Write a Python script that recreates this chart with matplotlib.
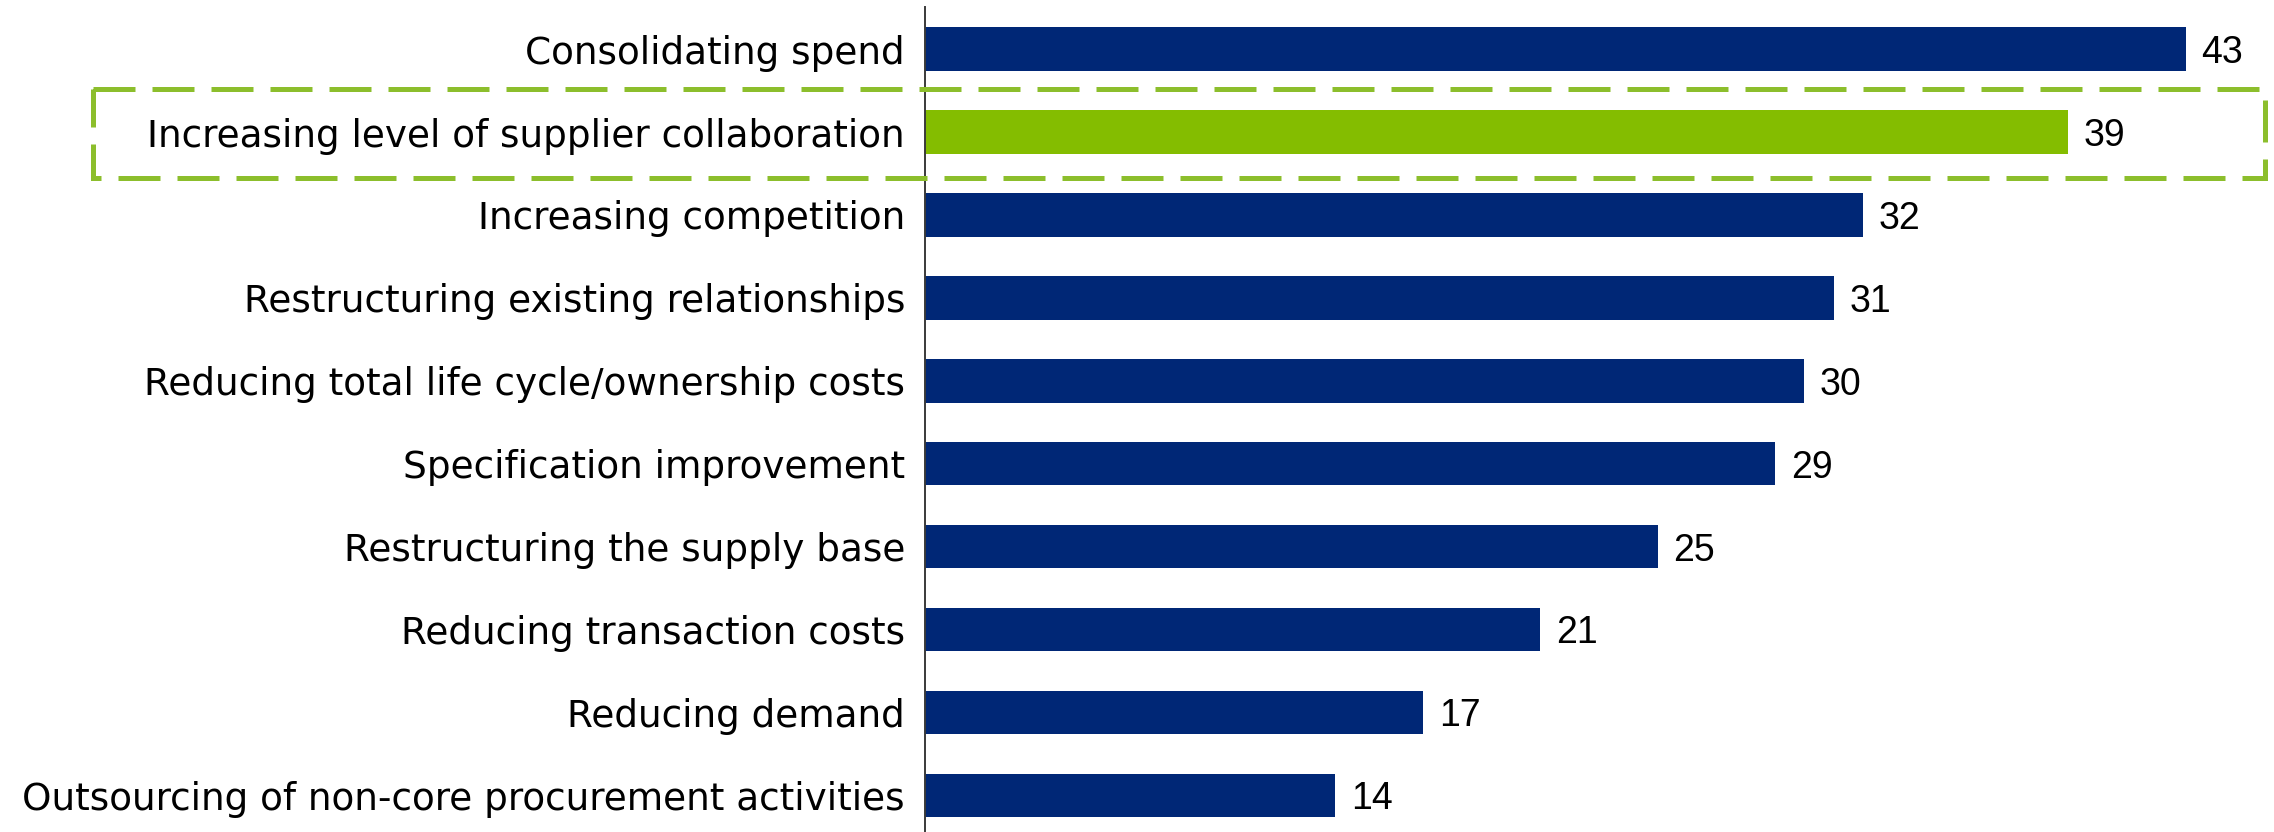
import matplotlib
matplotlib.use("Agg")
import matplotlib.pyplot as plt
from matplotlib.patches import Rectangle

# Levers used to reduce procurement costs (% of respondents)
categories = [
    "Consolidating spend",
    "Increasing level of supplier collaboration",
    "Increasing competition",
    "Restructuring existing relationships",
    "Reducing total life cycle/ownership costs",
    "Specification improvement",
    "Restructuring the supply base",
    "Reducing transaction costs",
    "Reducing demand",
    "Outsourcing of non-core procurement activities",
]
values = [43, 39, 32, 31, 30, 29, 25, 21, 17, 14]
highlight = "Increasing level of supplier collaboration"

NAVY = "#002776"
GREEN = "#84BD00"
BOX_GREEN = "#8CBE2C"

W, H, DPI = 2274, 832, 100
fig = plt.figure(figsize=(W / DPI, H / DPI), dpi=DPI)
fig.patch.set_facecolor("white")

ax_left, ax_right = 924.5, 2273.7
ax_top, ax_bottom = 7.3, 832.0
ax = fig.add_axes([ax_left / W, 1 - ax_bottom / H,
                   (ax_right - ax_left) / W, (ax_bottom - ax_top) / H])

ypos = list(range(len(categories)))
colors = [GREEN if c == highlight else NAVY for c in categories]
ax.barh(ypos, values, height=0.525, color=colors, edgecolor="none", zorder=2)

ax.set_xlim(0, 46)
ax.set_ylim(9.443, -0.505)

# value labels at the end of each bar
for y, v in zip(ypos, values):
    ax.text(v + 0.53, y, f"{v}", va="center_baseline", ha="left",
            fontsize=27, family="Liberation Sans", color="black")

ax.set_yticks(ypos)
ax.set_yticklabels(categories, fontsize=26.9, family="DejaVu Sans", color="black")
ax.tick_params(axis="y", length=0, pad=14)
ax.set_xticks([])

for side in ("top", "right", "bottom"):
    ax.spines[side].set_visible(False)
ax.spines["left"].set_color("#3a3a3a")
ax.spines["left"].set_linewidth(1.4)

# dashed frame around the highlighted lever
hi = categories.index(highlight)
x0 = (93.5 - ax_left) / 29.33
x1 = (2265.0 - ax_left) / 29.33
frame = Rectangle((x0, hi - 0.514), x1 - x0, 1.068,
                  transform=ax.transData, fill=False, edgecolor=BOX_GREEN,
                  linewidth=3.6, linestyle=(0, (8.4, 3.4)),
                  joinstyle="miter", clip_on=False, zorder=3)
ax.add_patch(frame)

fig.savefig("out.png", dpi=DPI, facecolor="white")
